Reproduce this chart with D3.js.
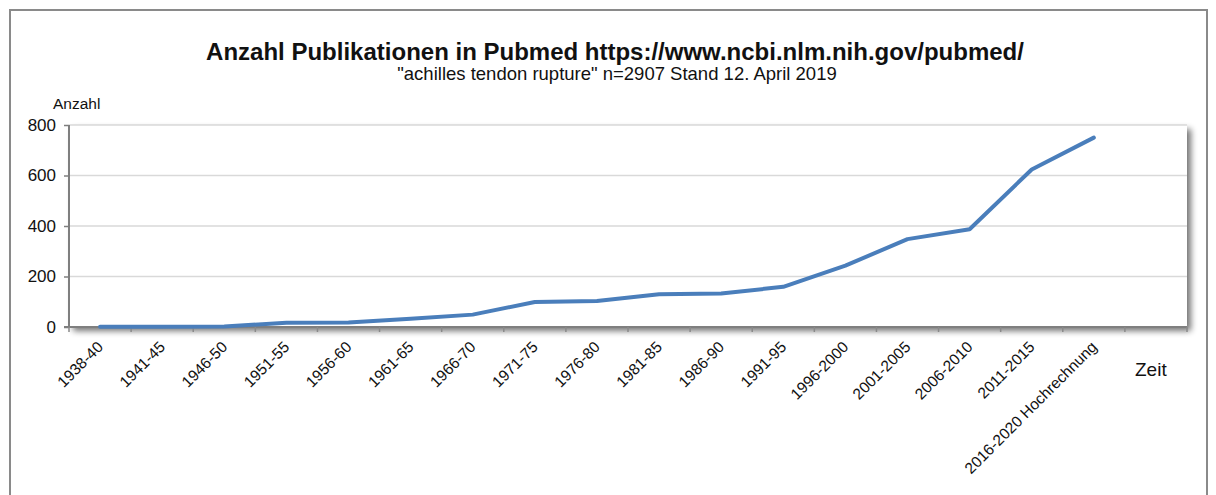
<!DOCTYPE html>
<html>
<head>
<meta charset="utf-8">
<script src="https://cdn.jsdelivr.net/npm/d3@7"></script>
<style>
  html, body { margin: 0; padding: 0; background: #fff; }
  #viz { width: 1216px; height: 495px; }
  text { font-family: "Liberation Sans", Arial, sans-serif; fill: #111; }
</style>
</head>
<body>
<div id="viz"></div>
<script>
// -----------------------------
// DATA
// -----------------------------
const categories = [
  "1938-40", "1941-45", "1946-50", "1951-55", "1956-60", "1961-65",
  "1966-70", "1971-75", "1976-80", "1981-85", "1986-90", "1991-95",
  "1996-2000", "2001-2005", "2006-2010", "2011-2015", "2016-2020 Hochrechnung"
];
const counts = [1, 1, 2, 17, 18, 33, 49, 99, 103, 130, 133, 159, 243, 348, 387, 624, 750];
const yTicks = [0, 200, 400, 600, 800];

const width = 1216, height = 495;
const margin = { left: 69, right: 29, top: 125, bottom: 168 };

const svg = d3.select("#viz")
  .append("svg")
  .attr("width", width)
  .attr("height", height)
  .style("display", "block");

const defs = svg.append("defs");
const shadow = defs.append("filter")
  .attr("id", "shadow")
  .attr("x", "-5%").attr("y", "-5%")
  .attr("width", "110%").attr("height", "120%");
shadow.append("feGaussianBlur").attr("in", "SourceAlpha").attr("stdDeviation", 3);
shadow.append("feOffset").attr("dx", 4).attr("dy", 4).attr("result", "blur");
shadow.append("feComponentTransfer").append("feFuncA").attr("type", "linear").attr("slope", 0.55);
const merge = shadow.append("feMerge");
merge.append("feMergeNode");
merge.append("feMergeNode").attr("in", "SourceGraphic");

// outer frame
svg.append("path")
  .attr("d", `M10,${height} L10,10 L1207,10 L1207,${height}`)
  .attr("fill", "none")
  .attr("stroke", "#8a8a8a")
  .attr("stroke-width", 2);

// -----------------------------
// SCALES
// -----------------------------
// one extra empty slot on the right, as in the original
const slots = categories.concat(["_"]);
const x = d3.scaleBand()
  .domain(slots)
  .range([margin.left, width - margin.right]);

const y = d3.scaleLinear()
  .domain([0, 800])
  .range([height - margin.bottom, margin.top]);

const x0 = margin.left, x1 = width - margin.right;
const yb = y(0), yt = y(800);

// plot background with shadow
svg.append("rect")
  .attr("x", x0).attr("y", yt)
  .attr("width", x1 - x0).attr("height", yb - yt)
  .attr("fill", "#fff")
  .attr("filter", "url(#shadow)");

// gridlines
svg.append("g")
  .selectAll("line")
  .data(yTicks.filter(d => d > 0))
  .join("line")
  .attr("x1", x0).attr("x2", x1)
  .attr("y1", d => y(d)).attr("y2", d => y(d))
  .attr("stroke", "#d9d9d9")
  .attr("stroke-width", 1.5);

// y axis
const yAxis = svg.append("g")
  .attr("transform", `translate(${x0},0)`)
  .call(d3.axisLeft(y).tickValues(yTicks).tickSize(5).tickPadding(8));
yAxis.select(".domain").attr("stroke", "#7f7f7f").attr("stroke-width", 2)
  .attr("d", `M0,${yt}V${yb}`);
yAxis.selectAll(".tick line").attr("stroke", "#7f7f7f").attr("stroke-width", 1.5);
yAxis.selectAll(".tick text")
  .style("font-family", '"Liberation Sans", Arial, sans-serif')
  .style("font-size", "17px")
  .attr("fill", "#111");

// x axis: ticks at band edges
const edges = slots.map(d => x(d)).concat([x1]);
const xg = svg.append("g");
xg.append("line")
  .attr("x1", x0 - 5).attr("x2", x1)
  .attr("y1", yb).attr("y2", yb)
  .attr("stroke", "#7f7f7f")
  .attr("stroke-width", 2);
xg.selectAll(".tk")
  .data(edges)
  .join("line")
  .attr("class", "tk")
  .attr("x1", d => d).attr("x2", d => d)
  .attr("y1", yb).attr("y2", yb + 5)
  .attr("stroke", "#8a8a8a")
  .attr("stroke-width", 1.5);

xg.selectAll(".lbl")
  .data(categories)
  .join("text")
  .attr("class", "lbl")
  .attr("text-anchor", "end")
  .attr("transform", d => `translate(${x(d) + x.bandwidth() / 2 + 4},${yb + 21}) rotate(-45)`)
  .style("font-size", "15.5px")
  .text(d => d);

// -----------------------------
// LINE
// -----------------------------
const line = d3.line()
  .x((d, i) => x(categories[i]) + x.bandwidth() / 2)
  .y(d => y(d));

svg.append("path")
  .datum(counts)
  .attr("d", line)
  .attr("fill", "none")
  .attr("stroke", "#4a7ebb")
  .attr("stroke-width", 4)
  .attr("stroke-linejoin", "round")
  .attr("stroke-linecap", "round");

// -----------------------------
// TEXTS
// -----------------------------
svg.append("text")
  .attr("x", 615).attr("y", 60)
  .attr("text-anchor", "middle")
  .style("font-size", "24px")
  .style("font-weight", "bold")
  .text("Anzahl Publikationen in Pubmed https://www.ncbi.nlm.nih.gov/pubmed/");

svg.append("text")
  .attr("x", 617).attr("y", 80)
  .attr("text-anchor", "middle")
  .style("font-size", "18.5px")
  .text("\"achilles tendon rupture\" n=2907 Stand 12. April 2019");

svg.append("text")
  .attr("x", 53).attr("y", 109)
  .style("font-size", "15.5px")
  .text("Anzahl");

svg.append("text")
  .attr("x", 1135).attr("y", 376)
  .style("font-size", "19px")
  .text("Zeit");
</script>
</body>
</html>
